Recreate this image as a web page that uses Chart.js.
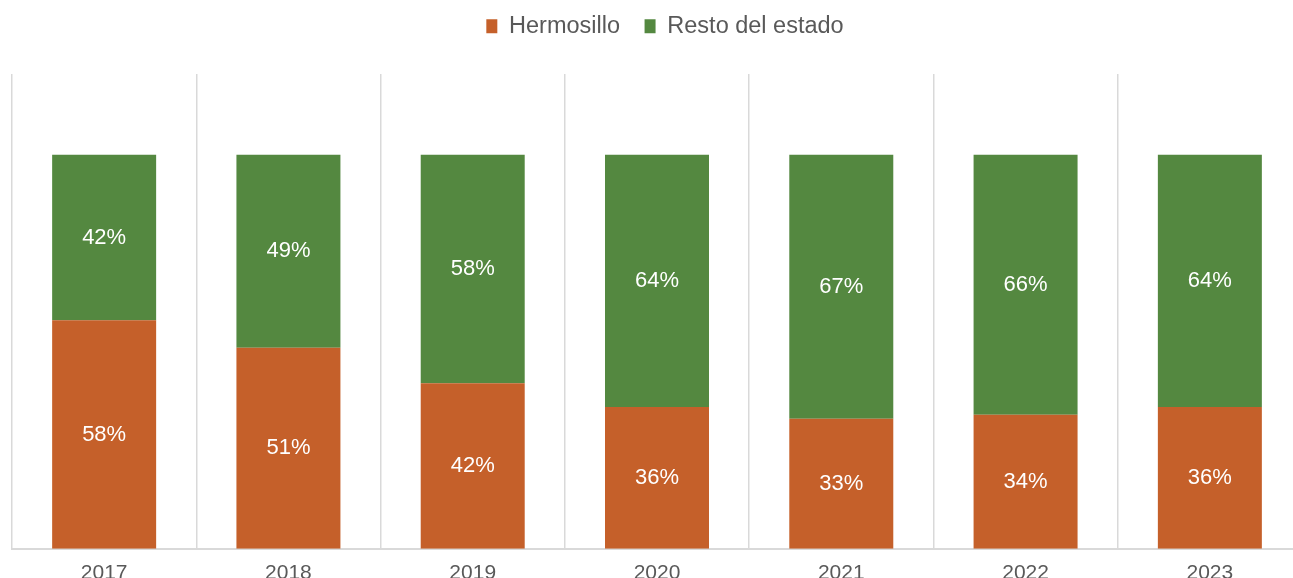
<!DOCTYPE html>
<html>
<head>
<meta charset="utf-8">
<script src="https://cdn.jsdelivr.net/npm/chart.js@4.4.1/dist/chart.umd.min.js"></script>
<style>
  html, body { margin: 0; padding: 0; background: #ffffff; overflow: hidden; }
  #wrap { position: relative; width: 1314px; height: 598px; }
</style>
</head>
<body>
<div id="wrap"><canvas id="c"></canvas></div>
<script>
const categories = ['2017', '2018', '2019', '2020', '2021', '2022', '2023'];
const hermosillo = [58, 51, 42, 36, 33, 34, 36];
const restoEstado = [42, 49, 58, 64, 67, 66, 64];
const seriesNames = ['Hermosillo', 'Resto del estado'];

const FONT = '"Liberation Sans", Arial, Helvetica, sans-serif';
const ORANGE = '#C5602A';
const GREEN = '#548840';

const legendFix = {
  id: 'legendFix',
  beforeLayout(chart) {
    const lg = chart.legend;
    if (lg && !lg._patched) {
      const origFit = lg.fit;
      lg.fit = function () {
        origFit.call(this);
        this.height = 74 - chart.options.layout.padding.top;
      };
      lg._patched = true;
    }
  },
  afterLayout(chart) {
    const lg = chart.legend;
    if (lg) { lg.left += 8; lg.right += 8; }
  }
};

const barLabels = {
  id: 'barLabels',
  afterDatasetsDraw(chart) {
    const ctx = chart.ctx;
    ctx.save();
    ctx.fillStyle = '#ffffff';
    ctx.font = '22px ' + FONT;
    ctx.textAlign = 'center';
    ctx.textBaseline = 'middle';
    chart.data.datasets.forEach((ds, di) => {
      const meta = chart.getDatasetMeta(di);
      meta.data.forEach((el, i) => {
        const y = (el.y + el.base) / 2;
        ctx.fillText(ds.data[i] + '%', el.x, y);
      });
    });
    ctx.restore();
  }
};

new Chart(document.getElementById('c'), {
  type: 'bar',
  data: {
    labels: categories,
    datasets: [
      { label: seriesNames[0], data: hermosillo, backgroundColor: ORANGE, borderWidth: 0 },
      { label: seriesNames[1], data: restoEstado, backgroundColor: GREEN, borderWidth: 0 }
    ]
  },
  options: {
    responsive: true,
    maintainAspectRatio: false,
    animation: false,
    layout: { padding: { top: -10, left: 12, right: 12, bottom: 0 } },
    datasets: { bar: { barPercentage: 1, categoryPercentage: 0.5643 } },
    plugins: {
      legend: {
        position: 'top',
        labels: {
          boxWidth: 11,
          boxHeight: 14,
          padding: 24.5,
          color: '#595959',
          font: { family: FONT, size: 23.5 }
        }
      },
      tooltip: { enabled: false }
    },
    scales: {
      x: {
        stacked: true,
        grid: { color: '#d9d9d9', lineWidth: 1.5, drawTicks: false, offset: true },
        border: { color: '#d9d9d9', width: 2 },
        ticks: { color: '#595959', padding: 12, font: { family: FONT, size: 21 } }
      },
      y: {
        stacked: true,
        display: false,
        min: 0,
        max: 120.5
      }
    }
  },
  plugins: [legendFix, barLabels]
});
</script>
</body>
</html>
